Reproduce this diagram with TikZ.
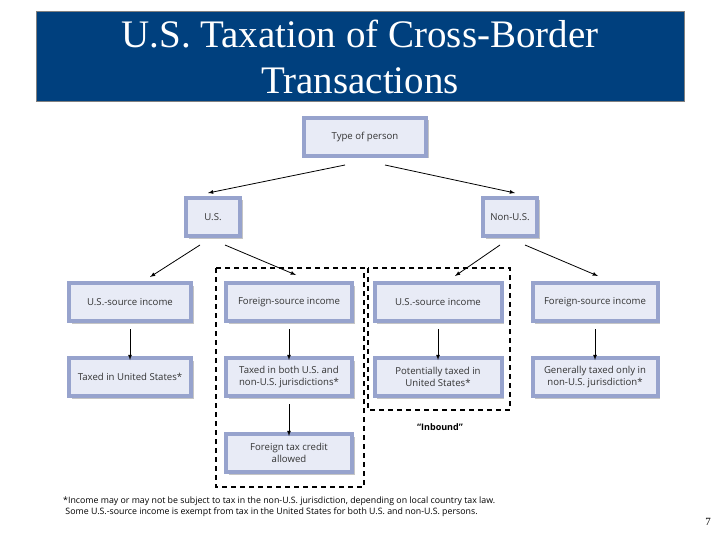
\documentclass[tikz,border=0pt]{standalone}
\usepackage{fontspec}
\setmainfont{Liberation Serif}
\newfontfamily\boxfont{Open Sans}
\usetikzlibrary{shadows}
\definecolor{titleblue}{HTML}{00407E}
\definecolor{bevel}{HTML}{97A3CD}
\definecolor{inner}{HTML}{E8EBF6}
\tikzset{
  bx/.style={draw=bevel, line width=4pt, fill=inner, minimum height=38pt, inner sep=1pt,
    align=center, font=\boxfont\fontsize{9.6}{11.5}\selectfont, text=black!80,
    drop shadow={shadow xshift=2.5pt, shadow yshift=-2.5pt, fill=black!45}},
  arr/.style={-latex, thick},
  dbox/.style={dashed, line width=1.3pt, dash pattern=on 5pt off 4pt}
}
\begin{document}
\begin{tikzpicture}[x=1pt,y=-1pt]
\useasboundingbox (0,0) rectangle (720,540);
\node[draw=gray, line width=1pt, fill=titleblue, minimum width=648, minimum height=90, text=white, align=center,
  font=\fontsize{39}{46}\selectfont] (title) at (360,57) {U.S. Taxation of Cross-Border\\Transactions};
\node[bx, minimum width=122] (type) at (365,137) {Type of person};
\node[bx, minimum width=54] (us) at (213,217) {U.S.};
\node[bx, minimum width=54] (nus) at (510,217) {Non-U.S.};
\node[bx, minimum width=122] (a1) at (130,302) {U.S.-source income};
\node[bx, minimum width=126] (b1) at (289,302) {Foreign-source income};
\node[bx, minimum width=127] (c1) at (438,302) {U.S.-source income};
\node[bx, minimum width=125] (d1) at (595,302) {Foreign-source income};
\node[bx, minimum width=122] (a2) at (130,377) {Taxed in United States*};
\node[bx, minimum width=126] (b2) at (289,377) {Taxed in both U.S. and\\non-U.S. jurisdictions*};
\node[bx, minimum width=127] (c2) at (438,377) {Potentially taxed in\\United States*};
\node[bx, minimum width=125] (d2) at (595,377) {Generally taxed only in\\non-U.S. jurisdiction*};
\node[bx, minimum width=126] (b3) at (289,453) {Foreign tax credit\\allowed};
\coordinate (t1) at (345,165); \coordinate (t1e) at (208,193);
\coordinate (t2) at (385,165); \coordinate (t2e) at (515,193);
\draw[arr] (t1) -- (t1e);
\draw[arr] (t2) -- (t2e);
\coordinate (u1) at (200,245); \coordinate (u1e) at (150,277);
\coordinate (u2) at (225,245); \coordinate (u2e) at (296,275);
\coordinate (n1) at (500,245); \coordinate (n1e) at (455,276);
\coordinate (n2) at (525,245); \coordinate (n2e) at (598,276);
\draw[arr] (u1) -- (u1e); \draw[arr] (u2) -- (u2e);
\draw[arr] (n1) -- (n1e); \draw[arr] (n2) -- (n2e);
\draw[arr] ([yshift=-6pt]a1.south) -- ([yshift=-4pt]a2.north);
\draw[arr] ([yshift=-6pt]b1.south) -- ([yshift=-4pt]b2.north);
\draw[arr] ([yshift=-6pt]c1.south) -- ([yshift=-4pt]c2.north);
\draw[arr] ([yshift=-6pt]d1.south) -- ([yshift=-4pt]d2.north);
\draw[arr] ([yshift=-6pt]b2.south) -- ([yshift=-4pt]b3.north);
\draw[dbox] (216,268) rectangle (364,487);
\draw[dbox] (368,268) rectangle (510,410);
\node[font=\boxfont\bfseries\fontsize{9}{10}\selectfont] (inb) at (440,427) {“Inbound”};
\node[anchor=north west, align=left, font=\boxfont\fontsize{8.8}{11}\selectfont, inner sep=0] (fn) at (63,497)
  {*Income may or may not be subject to tax in the non-U.S. jurisdiction, depending on local country tax law.\\
  \ Some U.S.-source income is exempt from tax in the United States for both U.S. and non-U.S. persons.};
\node[font=\fontsize{11}{12}\selectfont] (pg) at (708,522) {7};
\end{tikzpicture}
\end{document}
